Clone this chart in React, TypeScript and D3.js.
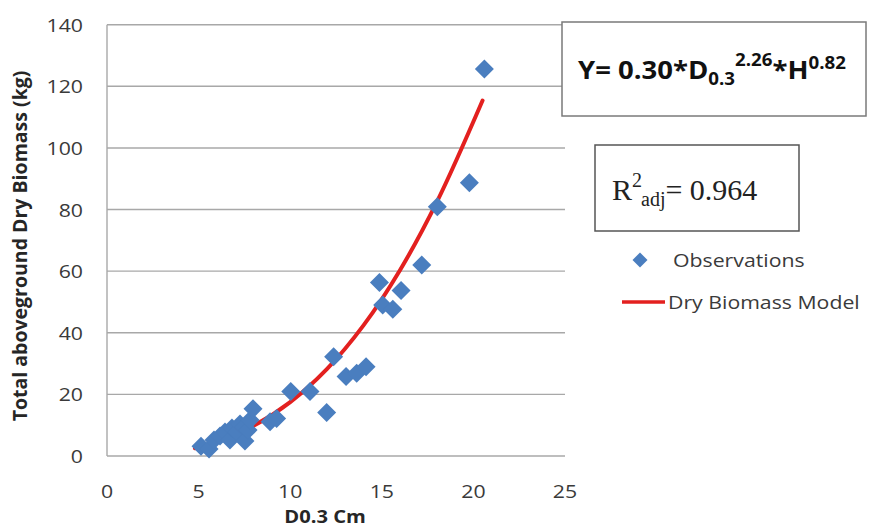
import React from "react";
import * as d3 from "d3";

// Observed stem diameter at 0.3 m (cm) and total aboveground dry biomass (kg)
const obsDiameter = [
  5.13, 5.57, 5.84, 6.17, 6.44, 6.71, 6.82, 7.1, 7.26, 7.48, 7.53, 7.7, 7.81, 7.97,
  8.9, 9.26, 10.03, 11.08, 11.99, 12.37, 13.05, 13.63, 14.14, 14.87, 15.05, 15.6,
  16.05, 17.18, 18.03, 19.78, 20.6,
];
const obsBiomass = [
  3.2, 2.3, 5.2, 6.5, 7.8, 5.2, 9.1, 7.8, 10.4, 9.4, 4.9, 8.4, 11.7, 15.3,
  11.1, 12.2, 20.9, 20.9, 14.1, 32.2, 25.8, 26.9, 29.0, 56.3, 49.0, 47.6,
  53.7, 62.0, 80.9, 88.7, 125.6,
];

// Fitted dry biomass model line
const modelDiameter = [4.8, 6, 8, 10, 12, 14, 16, 18, 20.5];
const modelBiomass = [2.5, 4.6, 9.8, 17.5, 28.2, 42.4, 60.4, 82.4, 115.4];

const xTicks = [0, 5, 10, 15, 20, 25];
const yTicks = [0, 20, 40, 60, 80, 100, 120, 140];

const W = 870;
const H = 530;
const FONT = "'Open Sans', 'Noto Sans', sans-serif";
const BLUE = "#4a7ebf";
const RED = "#e3201f";
const GRID = "#a8a8a8";

const x = d3.scaleLinear().domain([0, 25]).range([107, 565]);
const y = d3.scaleLinear().domain([0, 140]).range([456, 24.7]);

const diamond = (cx: number, cy: number, r: number) =>
  `M${cx},${cy - r}L${cx + r},${cy}L${cx},${cy + r}L${cx - r},${cy}Z`;

// Horizontal text drawn slightly widened
const WideText: React.FC<{
  x: number;
  y: number;
  size: number;
  anchor?: string;
  weight?: string | number;
  fill?: string;
  children: React.ReactNode;
}> = ({ x: tx, y: ty, size, anchor = "start", weight = "normal", fill = "#3a3a3a", children }) => (
  <text
    transform={`translate(${tx},${ty}) scale(1.12,1)`}
    fontFamily={FONT}
    fontSize={size}
    fontWeight={weight}
    textAnchor={anchor}
    fill={fill}
  >
    {children}
  </text>
);

export default function App() {
  const modelPts: [number, number][] = modelDiameter.map((d, i) => [d, modelBiomass[i]]);
  const line = d3
    .line<[number, number]>()
    .x((d) => x(d[0]))
    .y((d) => y(d[1]))
    .curve(d3.curveCatmullRom.alpha(0.5));

  return (
    <svg
      width={W}
      height={H}
      style={{ position: "absolute", left: 0, top: 0, background: "#fff" }}
    >
      <rect width={W} height={H} fill="#fff" />

      {/* gridlines */}
      {yTicks.map((t) => (
        <line
          key={`g${t}`}
          x1={x(0)}
          x2={x(25)}
          y1={y(t)}
          y2={y(t)}
          stroke={GRID}
          strokeWidth={1.4}
        />
      ))}
      <line x1={x(0)} x2={x(0)} y1={y(140)} y2={y(0)} stroke={GRID} strokeWidth={1.4} />

      {/* y tick labels */}
      {yTicks.map((t) => (
        <WideText key={`yl${t}`} x={83} y={y(t) + 7} size={19} anchor="end">
          {t}
        </WideText>
      ))}
      {/* x tick labels */}
      {xTicks.map((t) => (
        <WideText key={`xl${t}`} x={x(t)} y={498} size={19} anchor="middle">
          {t}
        </WideText>
      ))}

      {/* axis titles */}
      <text
        transform={`translate(27,246) rotate(-90)`}
        fontFamily={FONT}
        fontSize={19.5}
        fontWeight="bold"
        textAnchor="middle"
        fill="#262626"
      >
        Total aboveground Dry Biomass (kg)
      </text>
      <WideText x={325} y={523} size={18} anchor="middle" weight="bold" fill="#262626">
        D0.3 Cm
      </WideText>

      {/* model line */}
      <path d={line(modelPts) ?? ""} fill="none" stroke={RED} strokeWidth={4} strokeLinecap="round" />

      {/* observations */}
      {obsDiameter.map((d, i) => (
        <path key={`o${i}`} d={diamond(x(d), y(obsBiomass[i]), 9.5)} fill={BLUE} />
      ))}

      {/* equation box */}
      <rect x={562} y={22} width={304} height={94} fill="#fff" stroke="#7a7a7a" strokeWidth={1.5} />
      <text
        transform="translate(578,79) scale(1.1,1)"
        fontFamily={FONT}
        fontSize={25}
        fontWeight="bold"
        fill="#111"
      >
        Y= 0.30*D
        <tspan fontSize={17} dy={6}>0.3</tspan>
        <tspan fontSize={17} dy={-19}>2.26</tspan>
        <tspan fontSize={25} dy={13}>*H</tspan>
        <tspan fontSize={17} dy={-10}>0.82</tspan>
      </text>

      {/* adjusted R² box */}
      <rect x={595} y={145} width={204} height={86} fill="#fff" stroke="#555" strokeWidth={1.5} />
      <text
        x={612}
        y={200}
        fontFamily="'Liberation Serif', 'Times New Roman', serif"
        fontSize={30}
        fill="#222"
      >
        R
        <tspan fontSize={20} dy={-13}>2</tspan>
        <tspan fontSize={20} dy={19} dx={-1}>adj</tspan>
        <tspan fontSize={30} dy={-6}>= 0.964</tspan>
      </text>

      {/* legend */}
      <path d={diamond(640, 260, 7.5)} fill={BLUE} />
      <WideText x={673} y={267} size={19}>Observations</WideText>
      <line x1={622} x2={665} y1={302} y2={302} stroke={RED} strokeWidth={3.5} />
      <WideText x={668} y={309} size={19}>Dry Biomass Model</WideText>
    </svg>
  );
}
